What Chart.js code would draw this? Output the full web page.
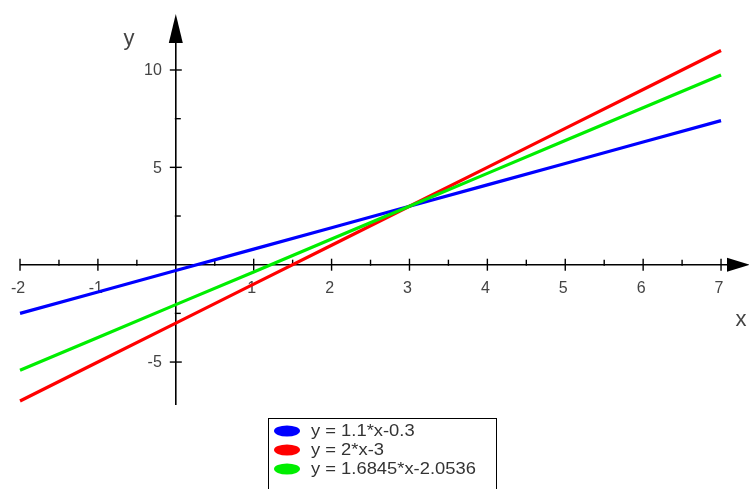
<!DOCTYPE html>
<html>
<head>
<meta charset="utf-8">
<script src="https://cdn.jsdelivr.net/npm/chart.js@4"></script>
<style>
  html, body { margin: 0; padding: 0; background: #fff; }
  #wrap { width: 749px; height: 489px; position: relative; }
</style>
</head>
<body>
<div id="wrap"><canvas id="grafico"></canvas></div>
<script>
// data
const xValues = [-2, -1, 0, 1, 2, 3, 4, 5, 6, 7];
const blueY = [-2.5, -1.4, -0.3, 0.8, 1.9, 3.0, 4.1, 5.2, 6.3, 7.4];
const redY = [-7, -5, -3, -1, 1, 3, 5, 7, 9, 11];
const greenY = [-5.42, -3.74, -2.05, -0.37, 1.32, 3.0, 4.69, 6.38, 8.06, 9.74];
const seriesLabels = ['y = 1.1*x-0.3', 'y = 2*x-3', 'y = 1.6845*x-2.0536'];
const xTicks = [-2, -1, 0, 1, 2, 3, 4, 5, 6, 7];
const xMinorTicks = [-1.5, -0.5, 0.5, 1.5, 2.5, 3.5, 4.5, 5.5, 6.5];
const yTicks = [-5, 5, 10];
const yMinorTicks = [-2.5, 2.5, 7.5];

const colors = { blue: '#0000ff', red: '#ff0000', green: '#00ee00', axis: '#000000', text: '#444444' };
const fonte = '"Liberation Sans", Arial, sans-serif';

function toPoints(ys) {
    return xValues.map((x, i) => ({ x: x, y: ys[i] }));
}

// draws the cross axes, ticks, arrows, labels and the boxed legend
const eixosPlugin = {
    id: 'eixos',
    beforeDatasetsDraw(chart) {
        const ctx = chart.ctx;
        const xs = chart.scales.x;
        const ys = chart.scales.y;
        const x0 = xs.getPixelForValue(0);
        const y0 = ys.getPixelForValue(0);
        ctx.save();
        ctx.strokeStyle = colors.axis;
        ctx.fillStyle = colors.axis;
        ctx.lineWidth = 1.6;

        // x axis
        ctx.beginPath();
        ctx.moveTo(xs.getPixelForValue(-2), y0);
        ctx.lineTo(xs.getPixelForValue(7.2), y0);
        ctx.stroke();
        // y axis
        ctx.beginPath();
        ctx.moveTo(x0, ys.getPixelForValue(-7.2));
        ctx.lineTo(x0, ys.getPixelForValue(11.5));
        ctx.stroke();

        // arrows
        ctx.beginPath();
        ctx.moveTo(750, y0);
        ctx.lineTo(727, y0 - 7);
        ctx.lineTo(727, y0 + 7);
        ctx.closePath();
        ctx.fill();
        ctx.beginPath();
        ctx.moveTo(x0, 14);
        ctx.lineTo(x0 - 7, 43);
        ctx.lineTo(x0 + 7, 43);
        ctx.closePath();
        ctx.fill();

        // ticks
        ctx.lineWidth = 1.4;
        xTicks.forEach(v => {
            if (v === 0) return;
            const px = xs.getPixelForValue(v);
            ctx.beginPath();
            ctx.moveTo(px, y0 - 6);
            ctx.lineTo(px, y0 + 6);
            ctx.stroke();
        });
        xMinorTicks.forEach(v => {
            const px = xs.getPixelForValue(v);
            ctx.beginPath();
            ctx.moveTo(px, y0 - 5);
            ctx.lineTo(px, y0 + 1);
            ctx.stroke();
        });
        yTicks.forEach(v => {
            const py = ys.getPixelForValue(v);
            ctx.beginPath();
            ctx.moveTo(x0 - 6, py);
            ctx.lineTo(x0 + 6, py);
            ctx.stroke();
        });
        yMinorTicks.forEach(v => {
            const py = ys.getPixelForValue(v);
            ctx.beginPath();
            ctx.moveTo(x0 - 1, py);
            ctx.lineTo(x0 + 5, py);
            ctx.stroke();
        });

        // tick labels
        ctx.fillStyle = colors.text;
        ctx.font = '16px ' + fonte;
        ctx.textAlign = 'center';
        ctx.textBaseline = 'middle';
        xTicks.forEach(v => {
            if (v === 0) return;
            ctx.fillText(String(v), xs.getPixelForValue(v) - 2, y0 + 24);
        });
        ctx.textAlign = 'right';
        yTicks.forEach(v => {
            ctx.fillText(String(v), x0 - 14, ys.getPixelForValue(v) + 1);
        });

        // axis names
        ctx.font = '22px ' + fonte;
        ctx.textAlign = 'center';
        ctx.textBaseline = 'alphabetic';
        ctx.fillText('y', 129, 45);
        ctx.fillText('x', 741, 326);
        ctx.restore();
    },
    afterDraw(chart) {
        const ctx = chart.ctx;
        ctx.save();
        ctx.fillStyle = '#ffffff';
        ctx.fillRect(268, 418, 228, 80);
        ctx.strokeStyle = '#000000';
        ctx.lineWidth = 1;
        ctx.strokeRect(268.5, 418.5, 228, 80);
        ctx.textAlign = 'left';
        ctx.textBaseline = 'middle';
        chart.data.datasets.forEach((ds, i) => {
            const cy = 431 + i * 19;
            ctx.fillStyle = ds.borderColor;
            ctx.beginPath();
            ctx.ellipse(287, cy, 13, 5.5, 0, 0, Math.PI * 2);
            ctx.fill();
            ctx.save();
            ctx.fillStyle = '#333333';
            ctx.font = '17px ' + fonte;
            ctx.translate(311, cy);
            ctx.scale(1.08, 1);
            ctx.fillText(ds.label, 0, 0);
            ctx.restore();
        });
        ctx.restore();
    }
};

new Chart(document.getElementById('grafico').getContext('2d'), {
    type: 'scatter',
    data: {
        datasets: [
            { label: seriesLabels[0], data: toPoints(blueY), borderColor: colors.blue, order: 3 },
            { label: seriesLabels[1], data: toPoints(redY), borderColor: colors.red, order: 2 },
            { label: seriesLabels[2], data: toPoints(greenY), borderColor: colors.green, order: 1 }
        ].map(ds => Object.assign(ds, {
            showLine: true,
            borderWidth: 3.2,
            pointRadius: 0,
            pointHoverRadius: 0,
            fill: false,
            tension: 0
        }))
    },
    options: {
        responsive: true,
        maintainAspectRatio: false,
        animation: false,
        layout: { padding: 0 },
        plugins: {
            legend: { display: false },
            tooltip: { enabled: false }
        },
        scales: {
            x: { type: 'linear', min: -2.257, max: 7.359, display: false },
            y: { type: 'linear', min: -11.52, max: 13.595, display: false }
        }
    },
    plugins: [eixosPlugin]
});
</script>
</body>
</html>
